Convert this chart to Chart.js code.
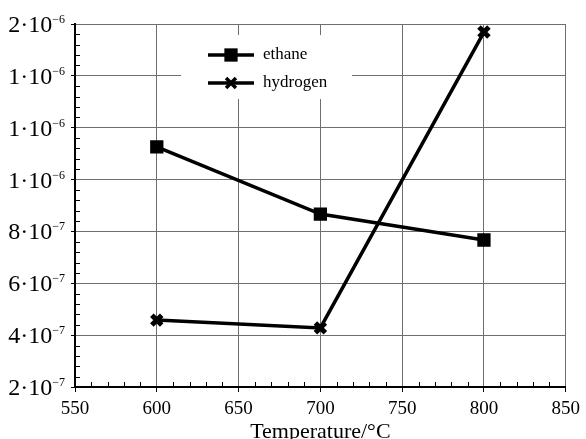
<!DOCTYPE html>
<html>
<head>
<meta charset="utf-8">
<script src="https://cdn.jsdelivr.net/npm/chart.js@4/dist/chart.umd.min.js"></script>
<style>
  html, body { margin: 0; padding: 0; background: #fff; }
  #wrap { width: 586px; height: 439px; }
</style>
</head>
<body>
<div id="wrap"><canvas id="chart"></canvas></div>
<script>
const temperatures = [600, 700, 800];
const ethane = [1.126e-6, 8.67e-7, 7.67e-7];
const hydrogen = [4.58e-7, 4.28e-7, 1.569e-6];
// y labels are typeset as mantissa·10 with a raised exponent
const yTickLabels = ["2·10", "4·10", "6·10", "8·10", "1·10", "1·10", "1·10", "2·10"];
const yTickExponents = ["−7", "−7", "−7", "−7", "−6", "−6", "−6", "−6"];
const seriesNames = ["ethane", "hydrogen"];

const serif = "'Liberation Serif', 'DejaVu Serif', serif";

// small inside ticks between the labelled ones
const minorTicks = {
  id: "minorTicks",
  afterDatasetsDraw(chart) {
    const { ctx, chartArea, scales } = chart;
    ctx.save();
    ctx.strokeStyle = "#000";
    ctx.lineWidth = 1;
    ctx.beginPath();
    for (let v = 550; v <= 850; v += 10) {
      if (v % 50 === 0) continue;
      const x = Math.round(scales.x.getPixelForValue(v)) + 0.5;
      ctx.moveTo(x, chartArea.bottom);
      ctx.lineTo(x, chartArea.bottom - 5);
    }
    for (let i = 0; i <= 35; i++) {
      if (i % 5 === 0) continue;
      const y = Math.round(scales.y.getPixelForValue(2e-7 + i * 4e-8)) + 0.5;
      ctx.moveTo(chartArea.left, y);
      ctx.lineTo(chartArea.left + 5, y);
    }
    ctx.stroke();
    ctx.restore();
  }
};

// y tick labels with superscript exponents
const powerLabels = {
  id: "powerLabels",
  afterDraw(chart) {
    const { ctx, scales } = chart;
    const yScale = scales.y;
    ctx.save();
    ctx.fillStyle = "#000";
    ctx.textBaseline = "alphabetic";
    ctx.textAlign = "left";
    yScale.ticks.forEach((t, i) => {
      const y = yScale.getPixelForValue(t.value);
      ctx.font = "12px " + serif;
      const expW = ctx.measureText(yTickExponents[i]).width;
      ctx.font = "24px " + serif;
      const mainW = ctx.measureText(yTickLabels[i]).width;
      const right = yScale.right - 10;
      ctx.fillText(yTickLabels[i], right - expW - mainW, y + 8);
      ctx.font = "12px " + serif;
      ctx.fillText(yTickExponents[i], right - expW, y - 1);
    });
    ctx.restore();
  }
};

// legend box inside the plot
const insideLegend = {
  id: "insideLegend",
  afterDatasetsDraw(chart) {
    const { ctx } = chart;
    ctx.save();
    ctx.fillStyle = "#fff";
    ctx.fillRect(181, 35, 171, 64);
    chart.data.datasets.forEach((ds, i) => {
      const y = 55 + i * 28;
      ctx.strokeStyle = "#000";
      ctx.fillStyle = "#000";
      ctx.lineWidth = 3.5;
      ctx.beginPath();
      ctx.moveTo(208, y);
      ctx.lineTo(254, y);
      ctx.stroke();
      Chart.helpers.drawPoint(ctx, {
        pointStyle: ds.pointStyle,
        radius: ds.pointRadius,
        borderWidth: ds.pointBorderWidth,
        rotation: 0
      }, 231, y);
      ctx.font = "17px " + serif;
      ctx.textBaseline = "middle";
      ctx.fillText(ds.label, 263, y);
    });
    ctx.restore();
  }
};

new Chart(document.getElementById("chart"), {
  type: "line",
  data: {
    datasets: [
      {
        label: seriesNames[0],
        data: temperatures.map((t, i) => ({ x: t, y: ethane[i] })),
        borderColor: "#000",
        backgroundColor: "#000",
        borderWidth: 3.5,
        pointStyle: "rect",
        pointRadius: 9.4,
        pointBorderWidth: 0,
        pointBackgroundColor: "#000",
        tension: 0
      },
      {
        label: seriesNames[1],
        data: temperatures.map((t, i) => ({ x: t, y: hydrogen[i] })),
        borderColor: "#000",
        backgroundColor: "#000",
        borderWidth: 3.5,
        pointStyle: "crossRot",
        pointRadius: 7,
        pointBorderWidth: 5,
        pointBorderColor: "#000",
        tension: 0
      }
    ]
  },
  options: {
    responsive: true,
    maintainAspectRatio: false,
    animation: false,
    layout: { padding: { top: 24, right: 20, left: 0, bottom: 0 } },
    plugins: {
      legend: { display: false },
      tooltip: { enabled: false }
    },
    scales: {
      x: {
        type: "linear",
        min: 550,
        max: 850,
        ticks: {
          stepSize: 50,
          color: "#000",
          padding: 6,
          font: { family: serif, size: 19 }
        },
        grid: { color: "#6e6e6e", lineWidth: 1, tickColor: "#000", tickLength: 5 },
        border: { color: "#000", width: 2 },
        title: {
          display: true,
          text: "Temperature/°C",
          color: "#000",
          padding: { top: 0, bottom: -6 },
          font: { family: serif, size: 22 }
        },
        afterFit(scale) { scale.height = 52; }
      },
      y: {
        min: 2e-7,
        max: 1.6e-6,
        ticks: {
          stepSize: 2e-7,
          display: false
        },
        grid: { color: "#6e6e6e", lineWidth: 1, tickColor: "#000", tickLength: 4 },
        border: { color: "#000", width: 2 },
        afterFit(scale) { scale.width = 75; }
      }
    }
  },
  plugins: [minorTicks, insideLegend, powerLabels]
});
</script>
</body>
</html>
